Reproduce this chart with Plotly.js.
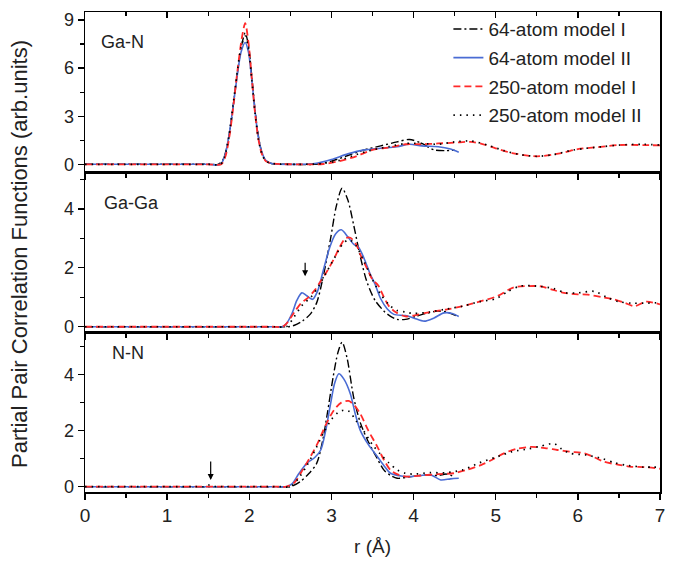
<!DOCTYPE html>
<html>
<head>
<meta charset="utf-8">
<script src="https://cdn.plot.ly/plotly-3.0.1.min.js"></script>
<style>html,body{margin:0;padding:0;background:#fff;}#chart{width:681px;height:567px;}</style>
</head>
<body>
<div id="chart"></div>
<script>
// ---------- Data ----------
const seriesNames = ["64-atom model I", "64-atom model II", "250-atom model I", "250-atom model II"];
const panelLabels = ["Ga-N", "Ga-Ga", "N-N"];
const xTickVals = [0, 1, 2, 3, 4, 5, 6, 7];

// Ga-N
const gaN_r_64I = [0, 1.0, 1.5, 1.62, 1.67, 1.72, 1.77, 1.82, 1.86, 1.91, 1.95, 1.99, 2.03, 2.07, 2.11, 2.15, 2.2, 2.27, 2.5, 2.8, 3.0, 3.2, 3.4, 3.6, 3.8, 3.95, 4.1, 4.25, 4.38, 4.5];
const gaN_g_64I = [0, 0, 0, 0, 0.2, 0.9, 2.3, 4.3, 5.9, 7.5, 8.2, 7.4, 5.5, 3.4, 1.8, 0.8, 0.25, 0.05, 0.0, 0.0, 0.2, 0.55, 0.9, 1.15, 1.4, 1.55, 1.3, 0.9, 0.85, 0.88];
const gaN_r_64II = [0, 1.0, 1.5, 1.65, 1.7, 1.75, 1.8, 1.85, 1.9, 1.95, 1.99, 2.03, 2.07, 2.11, 2.15, 2.2, 2.27, 2.6, 2.8, 3.0, 3.2, 3.4, 3.6, 3.8, 3.95, 4.1, 4.3, 4.45, 4.55];
const gaN_g_64II = [0, 0, 0, 0, 0.5, 1.7, 3.5, 5.4, 7.0, 7.6, 7.0, 5.3, 3.3, 1.7, 0.8, 0.25, 0.05, 0.0, 0.05, 0.3, 0.65, 0.9, 1.0, 1.1, 1.25, 1.15, 1.1, 0.95, 0.75];
const gaN_r_250I = [0, 1.0, 1.5, 1.66, 1.71, 1.76, 1.81, 1.86, 1.91, 1.95, 1.99, 2.03, 2.07, 2.11, 2.15, 2.2, 2.28, 2.6, 2.9, 3.1, 3.3, 3.5, 3.7, 3.9, 4.1, 4.3, 4.5, 4.7, 4.85, 5.0, 5.2, 5.5, 5.8, 6.0, 6.2, 6.5, 6.8, 7.0];
const gaN_g_250I = [0, 0, 0, 0, 0.5, 1.8, 3.8, 6.0, 7.9, 8.8, 7.6, 5.4, 3.2, 1.6, 0.7, 0.2, 0.05, 0.0, 0.02, 0.2, 0.5, 0.9, 1.05, 1.25, 1.25, 1.3, 1.35, 1.4, 1.25, 1.0, 0.7, 0.5, 0.7, 0.95, 1.05, 1.2, 1.2, 1.18];
const gaN_r_250II = [0, 1.0, 1.5, 1.65, 1.7, 1.75, 1.8, 1.85, 1.9, 1.95, 1.99, 2.03, 2.07, 2.11, 2.15, 2.2, 2.28, 2.6, 2.9, 3.1, 3.3, 3.5, 3.7, 3.9, 4.1, 4.3, 4.5, 4.7, 4.9, 5.1, 5.3, 5.5, 5.7, 5.9, 6.1, 6.3, 6.5, 6.8, 7.0];
const gaN_g_250II = [0, 0, 0, 0, 0.5, 1.7, 3.6, 5.6, 7.3, 8.0, 7.2, 5.3, 3.2, 1.6, 0.7, 0.2, 0.05, 0.0, 0.05, 0.25, 0.6, 0.9, 1.1, 1.3, 1.3, 1.25, 1.4, 1.45, 1.2, 0.85, 0.6, 0.5, 0.6, 0.85, 1.0, 1.1, 1.2, 1.25, 1.2];

// Ga-Ga
const gaGa_r_64I = [0, 1.0, 2.0, 2.35, 2.48, 2.55, 2.65, 2.74, 2.82, 2.9, 2.99, 3.06, 3.13, 3.2, 3.27, 3.35, 3.43, 3.53, 3.64, 3.72, 3.8, 3.9, 4.04, 4.15, 4.29, 4.4, 4.53];
const gaGa_g_64I = [0, 0, 0, 0, 0, 0.05, 0.2, 0.42, 0.81, 1.7, 3.0, 4.1, 4.7, 4.3, 3.46, 2.4, 1.54, 0.9, 0.53, 0.35, 0.25, 0.25, 0.36, 0.45, 0.53, 0.5, 0.36];
const gaGa_r_64II = [0, 1.0, 2.0, 2.28, 2.4, 2.45, 2.52, 2.58, 2.64, 2.7, 2.77, 2.83, 2.9, 2.98, 3.05, 3.12, 3.2, 3.27, 3.33, 3.4, 3.47, 3.53, 3.6, 3.68, 3.76, 3.9, 4.0, 4.13, 4.25, 4.37, 4.47, 4.55];
const gaGa_g_64II = [0, 0, 0, 0, 0, 0.1, 0.45, 0.9, 1.15, 1.05, 0.93, 1.2, 1.9, 2.7, 3.15, 3.29, 3.05, 2.8, 2.7, 2.3, 1.8, 1.45, 0.95, 0.6, 0.42, 0.38, 0.3, 0.19, 0.3, 0.47, 0.45, 0.35];
const gaGa_r_250I = [0, 1.0, 2.0, 2.28, 2.4, 2.45, 2.55, 2.63, 2.72, 2.8, 2.87, 2.95, 3.03, 3.1, 3.17, 3.23, 3.3, 3.36, 3.43, 3.5, 3.57, 3.64, 3.7, 3.78, 3.9, 4.0, 4.2, 4.41, 4.6, 4.82, 5.02, 5.22, 5.4, 5.55, 5.7, 5.83, 6.0, 6.12, 6.3, 6.44, 6.58, 6.69, 6.83, 7.0];
const gaGa_g_250I = [0, 0, 0, 0, 0, 0.1, 0.5, 0.8, 1.0, 1.25, 1.55, 1.9, 2.3, 2.7, 3.0, 3.02, 2.8, 2.4, 2.0, 1.6, 1.4, 1.0, 0.7, 0.5, 0.35, 0.38, 0.5, 0.59, 0.7, 0.87, 1.04, 1.34, 1.38, 1.37, 1.25, 1.15, 1.1, 1.09, 1.0, 0.93, 0.8, 0.7, 0.85, 0.76];
const gaGa_r_250II = [0, 1.0, 2.0, 2.32, 2.45, 2.55, 2.65, 2.75, 2.85, 2.95, 3.05, 3.15, 3.22, 3.3, 3.4, 3.5, 3.6, 3.7, 3.8, 3.9, 4.0, 4.2, 4.4, 4.6, 4.8, 5.0, 5.15, 5.3, 5.5, 5.7, 5.85, 6.0, 6.2, 6.35, 6.5, 6.65, 6.8, 7.0];
const gaGa_g_250II = [0, 0, 0, 0, 0, 0.35, 0.75, 1.0, 1.4, 1.9, 2.4, 2.85, 2.95, 2.75, 2.2, 1.6, 1.1, 0.75, 0.55, 0.5, 0.45, 0.5, 0.6, 0.7, 0.85, 0.95, 1.2, 1.38, 1.38, 1.3, 1.15, 1.15, 1.2, 1.0, 0.85, 0.8, 0.8, 0.82];

// N-N
const nN_r_64I = [0, 1.0, 2.0, 2.38, 2.5, 2.62, 2.72, 2.82, 2.89, 2.95, 3.02, 3.08, 3.13, 3.19, 3.27, 3.35, 3.44, 3.54, 3.64, 3.72, 3.8, 3.95, 4.13, 4.3, 4.4, 4.5];
const nN_g_64I = [0, 0, 0, 0, 0, 0.18, 0.45, 0.83, 1.6, 2.61, 3.9, 4.8, 5.16, 4.6, 3.2, 2.3, 1.66, 1.1, 0.59, 0.4, 0.3, 0.35, 0.42, 0.4, 0.45, 0.35];
const nN_r_64II = [0, 1.0, 2.0, 2.33, 2.45, 2.52, 2.6, 2.7, 2.8, 2.87, 2.93, 2.99, 3.04, 3.09, 3.15, 3.23, 3.29, 3.35, 3.45, 3.56, 3.64, 3.72, 3.85, 3.96, 4.08, 4.21, 4.33, 4.45, 4.55];
const nN_g_64II = [0, 0, 0, 0, 0, 0.1, 0.45, 0.83, 1.05, 1.31, 2.0, 2.97, 3.7, 4.03, 3.85, 3.32, 2.6, 2.02, 1.5, 1.07, 0.75, 0.48, 0.38, 0.36, 0.4, 0.42, 0.24, 0.28, 0.3];
const nN_r_250I = [0, 1.0, 2.0, 2.33, 2.45, 2.55, 2.65, 2.75, 2.83, 2.93, 3.03, 3.12, 3.21, 3.28, 3.35, 3.45, 3.56, 3.64, 3.72, 3.82, 3.91, 4.1, 4.3, 4.49, 4.65, 4.82, 4.95, 5.1, 5.25, 5.43, 5.6, 5.75, 5.9, 6.08, 6.2, 6.32, 6.5, 6.65, 6.8, 7.0];
const nN_g_250I = [0, 0, 0, 0, 0, 0.15, 0.6, 1.1, 1.54, 2.2, 2.73, 3.0, 3.06, 2.9, 2.61, 2.0, 1.42, 0.95, 0.59, 0.42, 0.36, 0.4, 0.45, 0.48, 0.6, 0.77, 0.95, 1.19, 1.35, 1.42, 1.38, 1.31, 1.25, 1.19, 1.05, 0.89, 0.78, 0.71, 0.7, 0.64];
const nN_r_250II = [0, 1.0, 1.4, 1.45, 1.5, 1.55, 1.6, 1.65, 2.0, 2.38, 2.5, 2.6, 2.7, 2.8, 2.9, 3.0, 3.08, 3.15, 3.22, 3.3, 3.39, 3.5, 3.6, 3.7, 3.8, 3.9, 4.0, 4.2, 4.4, 4.6, 4.8, 5.0, 5.2, 5.4, 5.55, 5.71, 5.8, 5.91, 6.1, 6.3, 6.45, 6.58, 6.8, 7.0];
const nN_g_250II = [0, 0, 0, 0, 0.06, 0.04, 0, 0, 0, 0, 0, 0.3, 0.75, 1.3, 1.9, 2.4, 2.65, 2.73, 2.68, 2.35, 2.0, 1.5, 1.15, 0.85, 0.6, 0.48, 0.45, 0.5, 0.5, 0.6, 0.85, 1.05, 1.25, 1.35, 1.45, 1.54, 1.35, 1.19, 1.13, 1.0, 0.85, 0.77, 0.7, 0.7];

// Arrow markers (r, tail g, head g)
const arrowGaGa = [2.68, 2.22, 1.71];
const arrowNN = [1.53, 0.95, 0.24];

// ---------- Styles ----------
const styles = [
  {color: "#000000", dash: "8px,3px,2px,3px", width: 1.4},
  {color: "#4a6cd4", dash: "solid", width: 1.6},
  {color: "#ff2a2a", dash: "7px,4px", width: 1.8},
  {color: "#000000", dash: "1.5px,5px", width: 1.7}
];
const FONT = "Liberation Sans, Arial, sans-serif";

const panels = [
  {rs: [gaN_r_64I, gaN_r_64II, gaN_r_250I, gaN_r_250II], gs: [gaN_g_64I, gaN_g_64II, gaN_g_250I, gaN_g_250II], xa: "x3", ya: "y3", legend: true},
  {rs: [gaGa_r_64I, gaGa_r_64II, gaGa_r_250I, gaGa_r_250II], gs: [gaGa_g_64I, gaGa_g_64II, gaGa_g_250I, gaGa_g_250II], xa: "x2", ya: "y2", legend: false},
  {rs: [nN_r_64I, nN_r_64II, nN_r_250I, nN_r_250II], gs: [nN_g_64I, nN_g_64II, nN_g_250I, nN_g_250II], xa: "x", ya: "y", legend: false}
];

const traces = [];
panels.forEach(p => {
  for (let i = 0; i < 4; i++) {
    traces.push({
      x: p.rs[i], y: p.gs[i], type: "scatter", mode: "lines",
      name: seriesNames[i], legendgroup: "s" + i, showlegend: p.legend,
      xaxis: p.xa, yaxis: p.ya,
      line: {color: styles[i].color, dash: styles[i].dash, width: styles[i].width, shape: "spline", smoothing: 0.8},
      hoverinfo: "x+y"
    });
  }
});
// invisible helper trace so the top-edge (inward tick) axis of the Ga-N panel is drawn
traces.push({x: [0, 7], y: [null, null], type: "scatter", mode: "lines", xaxis: "x4", yaxis: "y3", showlegend: false, hoverinfo: "skip"});

const xBase = {
  range: [0, 7], tickvals: xTickVals, ticks: "outside", ticklen: 6, tickwidth: 1.3, tickcolor: "#000",
  minor: {dtick: 0.5, tick0: 0, ticks: "outside", ticklen: 4, tickwidth: 1.2, tickcolor: "#000"},
  showline: true, linecolor: "#000", linewidth: 1.5, mirror: true, showgrid: false, zeroline: false,
  tickfont: {family: FONT, size: 19, color: "#222"}
};
const yBase = {
  ticks: "outside", ticklen: 6, tickwidth: 1.3, tickcolor: "#000",
  showline: true, linecolor: "#000", linewidth: 1.5, mirror: true, showgrid: false, zeroline: false,
  tickfont: {family: FONT, size: 18, color: "#222"}
};

const layout = {
  width: 681, height: 567,
  margin: {l: 85, r: 21, t: 10, b: 75},
  paper_bgcolor: "#fff", plot_bgcolor: "#fff",
  showlegend: true,
  legend: {
    x: 0.632, y: 1.004, xanchor: "left", yanchor: "top",
    font: {family: FONT, size: 19, color: "#222"},
    bgcolor: "rgba(0,0,0,0)", traceorder: "grouped", tracegroupgap: 1
  },
  xaxis: Object.assign({}, xBase, {anchor: "y", title: {text: "r (Å)", font: {family: FONT, size: 19, color: "#222"}, standoff: 14}}),
  xaxis2: Object.assign({}, xBase, {anchor: "y2", showticklabels: false, matches: "x"}),
  xaxis3: Object.assign({}, xBase, {anchor: "y3", showticklabels: false, matches: "x"}),
  xaxis4: {range: [0, 7], overlaying: "x3", anchor: "y3", side: "top", tickvals: xTickVals, ticks: "inside", ticklen: 6, tickwidth: 1.3, tickcolor: "#000",
    minor: {dtick: 0.5, tick0: 0, ticks: "inside", ticklen: 4, tickwidth: 1.2, tickcolor: "#000"},
    showticklabels: false, showline: false, showgrid: false, zeroline: false},
  yaxis: Object.assign({}, yBase, {domain: [0, 0.332], range: [-0.19, 5.5], tickvals: [0, 2, 4],
    minor: {dtick: 1, tick0: 0, ticks: "outside", ticklen: 4, tickwidth: 1.2, tickcolor: "#000"}}),
  yaxis2: Object.assign({}, yBase, {domain: [0.332, 0.666], range: [-0.2, 5.24], tickvals: [0, 2, 4],
    minor: {dtick: 1, tick0: 0, ticks: "outside", ticklen: 4, tickwidth: 1.2, tickcolor: "#000"}}),
  yaxis3: Object.assign({}, yBase, {domain: [0.666, 1], range: [-0.5, 9.5], tickvals: [0, 3, 6, 9],
    minor: {dtick: 1.5, tick0: 0, ticks: "outside", ticklen: 4, tickwidth: 1.2, tickcolor: "#000"}}),
  annotations: [
    {text: panelLabels[0], xref: "x3", yref: "paper", x: 0.17, y: 0.938, xanchor: "left", yanchor: "middle", showarrow: false, font: {family: FONT, size: 18, color: "#222"}},
    {text: panelLabels[1], xref: "x2", yref: "paper", x: 0.21, y: 0.602, xanchor: "left", yanchor: "middle", showarrow: false, font: {family: FONT, size: 18, color: "#222"}},
    {text: panelLabels[2], xref: "x", yref: "paper", x: 0.30, y: 0.290, xanchor: "left", yanchor: "middle", showarrow: false, font: {family: FONT, size: 18, color: "#222"}},
    {text: "Partial Pair Correlation Functions (arb.units)", xref: "paper", yref: "paper", x: -0.113, y: 0.496, textangle: -90,
      xanchor: "center", yanchor: "middle", showarrow: false, font: {family: FONT, size: 22, color: "#222"}},
    {text: "", xref: "x2", yref: "y2", x: arrowGaGa[0], y: arrowGaGa[2], axref: "x2", ayref: "y2", ax: arrowGaGa[0], ay: arrowGaGa[1],
      showarrow: true, arrowhead: 2, arrowsize: 1, arrowwidth: 1.2, arrowcolor: "#000"},
    {text: "", xref: "x", yref: "y", x: arrowNN[0], y: arrowNN[2], axref: "x", ayref: "y", ax: arrowNN[0], ay: arrowNN[1],
      showarrow: true, arrowhead: 2, arrowsize: 1, arrowwidth: 1.2, arrowcolor: "#000"}
  ]
};

Plotly.newPlot("chart", traces, layout, {displayModeBar: false, staticPlot: true});
</script>
</body>
</html>
